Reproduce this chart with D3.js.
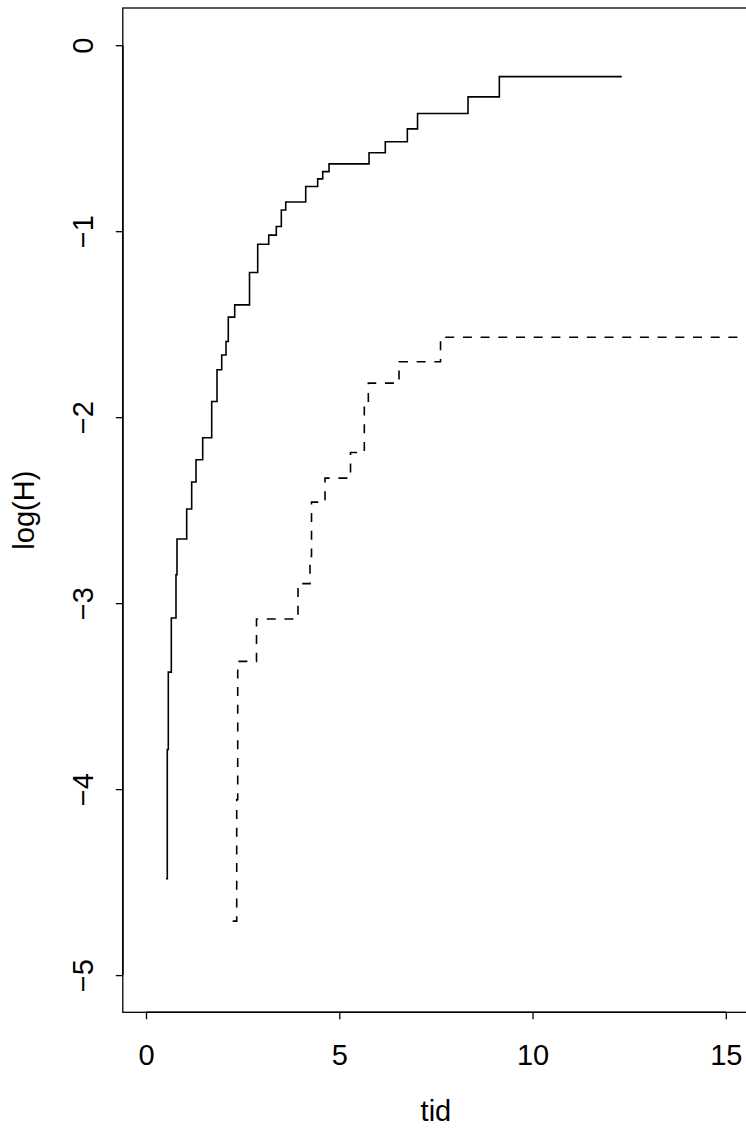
<!DOCTYPE html>
<html>
<head>
<meta charset="utf-8">
<script src="https://cdn.jsdelivr.net/npm/d3@7"></script>
<style>
  html, body { margin: 0; padding: 0; background: #ffffff; }
  svg { display: block; }
  text { font-family: "Liberation Sans", Arial, Helvetica, sans-serif; fill: #000; }
</style>
</head>
<body>
<script>
// ---- data ----
const xTicks = [0, 5, 10, 15];
const yTicks = [0, -1, -2, -3, -4, -5];
const xLabel = "tid";
const yLabel = "log(H)";

// group 1 (solid line): event times and log cumulative hazard
const solidTime = [0.517, 0.551, 0.577, 0.655, 0.776, 0.802, 1.053, 1.182, 1.294, 1.467,
  1.700, 1.837, 1.959, 2.070, 2.129, 2.295, 2.678, 2.890, 3.175, 3.371,
  3.501, 3.615, 4.132, 4.442, 4.572, 4.735, 5.770, 6.191, 6.761, 7.025,
  8.331, 9.141, 12.308];
const solidLogH = [-4.482, -3.787, -3.371, -3.080, -2.847, -2.655, -2.494, -2.349, -2.229, -2.111,
  -1.916, -1.745, -1.666, -1.593, -1.462, -1.396, -1.222, -1.070, -1.021, -0.975,
  -0.886, -0.843, -0.760, -0.719, -0.680, -0.638, -0.578, -0.519, -0.450, -0.367,
  -0.278, -0.169, -0.169];

// group 2 (dashed line)
const dashTime = [2.243, 2.347, 2.373, 2.859, 3.933, 4.243, 4.282, 4.631, 5.291, 5.648,
  5.752, 6.546, 7.620, 15.5];
const dashLogH = [-4.710, -4.056, -3.313, -3.085, -2.895, -2.749, -2.457, -2.328, -2.190, -1.941,
  -1.817, -1.702, -1.570, -1.570];

// ---- layout ----
const W = 746, H = 1128;
const plot = { left: 122.8, right: 749.0, top: 8, bottom: 1012.3 };
const fontSize = 29;

const svg = d3.select("body").append("svg")
  .attr("width", W).attr("height", H)
  .attr("viewBox", `0 0 ${W} ${H}`);

svg.append("rect").attr("width", W).attr("height", H).attr("fill", "#fff");

const x = d3.scaleLinear().domain([-0.6, 15.6]).range([plot.left, plot.right]);
const y = d3.scaleLinear().domain([-5.2, 0.2]).range([plot.bottom, plot.top]);

svg.append("clipPath").attr("id", "clip")
  .append("rect")
  .attr("x", plot.left).attr("y", plot.top)
  .attr("width", plot.right - plot.left).attr("height", plot.bottom - plot.top);

const line = d3.line()
  .x(d => x(d[0]))
  .y(d => y(d[1]))
  .curve(d3.curveStepAfter);

const solidData = solidTime.map((t, i) => [t, solidLogH[i]]);
const dashData = dashTime.map((t, i) => [t, dashLogH[i]]);

const g = svg.append("g").attr("clip-path", "url(#clip)");

g.append("path")
  .datum(dashData)
  .attr("d", line)
  .attr("fill", "none")
  .attr("stroke", "#000")
  .attr("stroke-width", 1.6)
  .attr("stroke-dasharray", "9,8.7");

g.append("path")
  .datum(solidData)
  .attr("d", line)
  .attr("fill", "none")
  .attr("stroke", "#000")
  .attr("stroke-width", 1.6);

// box
svg.append("rect")
  .attr("x", plot.left).attr("y", plot.top)
  .attr("width", plot.right - plot.left).attr("height", plot.bottom - plot.top)
  .attr("fill", "none").attr("stroke", "#000").attr("stroke-width", 1.3);

// x axis
const xAxis = svg.append("g")
  .attr("transform", `translate(0,${plot.bottom})`)
  .call(d3.axisBottom(x).tickValues(xTicks).tickSize(7).tickSizeOuter(0)
    .tickFormat(d => String(d)));
xAxis.select(".domain").remove();
xAxis.selectAll(".tick line").attr("stroke", "#000").attr("stroke-width", 1.3);
xAxis.selectAll(".tick text")
  .attr("y", 53).attr("dy", null)
  .attr("font-size", fontSize)
  .attr("font-family", "Liberation Sans, Arial, sans-serif")
  .attr("fill", "#000");
// axis segment between first and last tick (as R draws it)
svg.append("line")
  .attr("x1", x(xTicks[0])).attr("x2", x(xTicks[xTicks.length - 1]))
  .attr("y1", plot.bottom).attr("y2", plot.bottom)
  .attr("stroke", "#000").attr("stroke-width", 1.6);

// y axis
const yAxis = svg.append("g")
  .attr("transform", `translate(${plot.left},0)`)
  .call(d3.axisLeft(y).tickValues(yTicks).tickSize(7).tickSizeOuter(0)
    .tickFormat(d => String(d).replace("-", "\u2212")));
yAxis.select(".domain").remove();
yAxis.selectAll(".tick line").attr("stroke", "#000").attr("stroke-width", 1.3);
yAxis.selectAll(".tick text")
  .attr("x", null).attr("dy", null)
  .attr("transform", "translate(-30,0) rotate(-90)")
  .attr("text-anchor", "middle")
  .attr("font-size", fontSize)
  .attr("font-family", "Liberation Sans, Arial, sans-serif")
  .attr("fill", "#000");
svg.append("line")
  .attr("x1", plot.left).attr("x2", plot.left)
  .attr("y1", y(yTicks[0])).attr("y2", y(yTicks[yTicks.length - 1]))
  .attr("stroke", "#000").attr("stroke-width", 1.6);

// axis titles
svg.append("text")
  .attr("x", (plot.left + plot.right) / 2)
  .attr("y", 1121)
  .attr("text-anchor", "middle")
  .attr("font-size", fontSize)
  .text(xLabel);

svg.append("text")
  .attr("transform", `translate(34,${(plot.top + plot.bottom) / 2}) rotate(-90)`)
  .attr("text-anchor", "middle")
  .attr("font-size", fontSize)
  .text(yLabel);
</script>
</body>
</html>
